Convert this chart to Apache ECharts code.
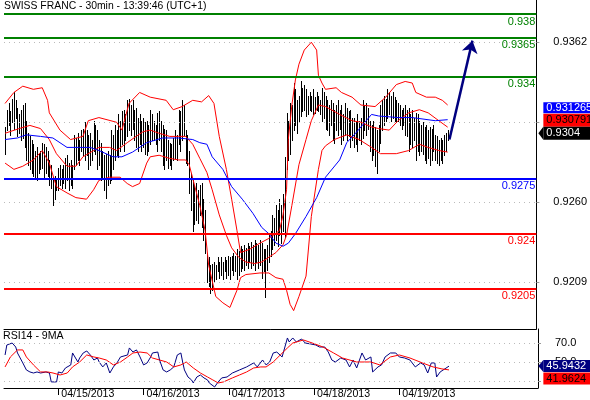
<!DOCTYPE html>
<html>
<head>
<meta charset="utf-8">
<title>Swiss Franc 30min</title>
<script src="https://cdn.jsdelivr.net/npm/echarts@6/dist/echarts.min.js"></script>
<style>
html,body{margin:0;padding:0;background:#ffffff;}
#chart{width:590px;height:400px;}
</style>
</head>
<body>
<div id="chart"></div>
<script>
// ---------------- data ----------------
const titleText = 'SWISS FRANC - 30min - 13:39:46 (UTC+1)';
const rsiTitle = 'RSI14 - 9MA';
const dayTicks = [0, 48, 96, 144, 192];
const dayLabels = ['04/15/2013', '04/16/2013', '04/17/2013', '04/18/2013', '04/19/2013'];
const priceTicks = [0.9209, 0.9260, 0.9311, 0.9362];
const rsiTicks = [30, 50, 70];
const levels = [0.938, 0.9365, 0.934, 0.9275, 0.924, 0.9205];
const levelLabels = ['0.938', '0.9365', '0.934', '0.9275', '0.924', '0.9205'];
const levelColors = ['#008000', '#008000', '#008000', '#0000ff', '#ff0000', '#ff0000'];

// 30-minute bars, slot 0 = 04/15 00:00
const firstBarSlot = -30;
const barHigh = [
  0.9308,0.9319,0.9323,0.9318,0.9326,0.9330,0.9325,0.9320,0.9316,0.9319,
  0.9322,0.9323,0.9312,0.9304,0.9302,0.9300,0.9297,0.9293,0.9295,0.9291,
  0.9293,0.9298,0.9297,0.9295,0.9293,0.9287,0.9284,0.9276,0.9277,0.9274,
  0.9282,0.9284,0.9281,0.9284,0.9288,0.9290,0.9285,0.9287,0.9284,0.9303,
  0.9301,0.9304,0.9300,0.9306,0.9307,0.9311,0.9306,0.9303,0.9304,0.9300,
  0.9312,0.9309,0.9306,0.9300,0.9298,0.9293,0.9290,0.9291,0.9293,0.9290,
  0.9306,0.9303,0.9309,0.9306,0.9316,0.9312,0.9318,0.9319,0.9316,0.9325,
  0.9326,0.9322,0.9325,0.9319,0.9320,0.9314,0.9316,0.9312,0.9314,0.9311,
  0.9312,0.9309,0.9319,0.9316,0.9312,0.9309,0.9317,0.9318,0.9312,0.9309,
  0.9307,0.9306,0.9300,0.9298,0.9297,0.9301,0.9306,0.9303,0.9319,0.9318,
  0.9325,0.9322,0.9306,0.9303,0.9293,0.9279,0.9274,0.9271,0.9272,0.9268,
  0.9271,0.9272,0.9262,0.9255,0.9228,0.9225,0.9220,0.9221,0.9222,0.9220,
  0.9225,0.9222,0.9225,0.9222,0.9225,0.9223,0.9226,0.9225,0.9226,0.9228,
  0.9226,0.9230,0.9229,0.9232,0.9230,0.9233,0.9231,0.9234,0.9232,0.9235,
  0.9233,0.9236,0.9234,0.9233,0.9236,0.9234,0.9230,0.9230,0.9233,0.9239,
  0.9242,0.9252,0.9250,0.9258,0.9255,0.9262,0.9258,0.9265,0.9289,0.9317,
  0.9312,0.9323,0.9322,0.9336,0.9332,0.9325,0.9328,0.9337,0.9333,0.9335,
  0.9332,0.9328,0.9330,0.9328,0.9332,0.9327,0.9330,0.9328,0.9325,0.9333,
  0.9330,0.9328,0.9325,0.9322,0.9325,0.9323,0.9319,0.9322,0.9325,0.9319,
  0.9322,0.9316,0.9323,0.9320,0.9318,0.9319,0.9314,0.9314,0.9311,0.9316,
  0.9312,0.9314,0.9325,0.9322,0.9323,0.9320,0.9312,0.9309,0.9312,0.9308,
  0.9306,0.9309,0.9322,0.9325,0.9328,0.9326,0.9332,0.9330,0.9328,0.9330,
  0.9327,0.9325,0.9323,0.9322,0.9319,0.9320,0.9322,0.9319,0.9320,0.9316,
  0.9319,0.9314,0.9317,0.9316,0.9312,0.9309,0.9311,0.9308,0.9309,0.9306,
  0.9308,0.9307,0.9309,0.9303,0.9302,0.9300,0.9301,0.9300,0.9303,0.9304,
  0.9306
];
const barLow = [
  0.9291,0.9306,0.9309,0.9303,0.9311,0.9307,0.9314,0.9302,0.9304,0.9300,
  0.9301,0.9295,0.9287,0.9284,0.9281,0.9279,0.9277,0.9276,0.9274,0.9279,
  0.9281,0.9282,0.9276,0.9279,0.9277,0.9271,0.9269,0.9258,0.9262,0.9268,
  0.9268,0.9271,0.9269,0.9272,0.9269,0.9274,0.9268,0.9271,0.9269,0.9281,
  0.9284,0.9287,0.9284,0.9293,0.9290,0.9287,0.9290,0.9281,0.9284,0.9287,
  0.9293,0.9291,0.9281,0.9284,0.9274,0.9276,0.9268,0.9263,0.9271,0.9272,
  0.9274,0.9281,0.9287,0.9290,0.9289,0.9293,0.9297,0.9293,0.9300,0.9302,
  0.9306,0.9303,0.9307,0.9300,0.9295,0.9293,0.9297,0.9293,0.9295,0.9291,
  0.9290,0.9293,0.9297,0.9300,0.9300,0.9297,0.9293,0.9300,0.9293,0.9284,
  0.9281,0.9287,0.9282,0.9284,0.9281,0.9287,0.9288,0.9287,0.9297,0.9293,
  0.9300,0.9303,0.9285,0.9284,0.9266,0.9255,0.9242,0.9246,0.9249,0.9247,
  0.9252,0.9244,0.9236,0.9228,0.9209,0.9207,0.9202,0.9204,0.9209,0.9211,
  0.9216,0.9212,0.9214,0.9211,0.9216,0.9212,0.9214,0.9211,0.9217,0.9214,
  0.9216,0.9211,0.9214,0.9216,0.9218,0.9217,0.9220,0.9218,0.9222,0.9218,
  0.9220,0.9217,0.9222,0.9218,0.9220,0.9212,0.9216,0.9200,0.9217,0.9222,
  0.9226,0.9230,0.9233,0.9236,0.9232,0.9239,0.9234,0.9242,0.9238,0.9281,
  0.9287,0.9291,0.9300,0.9306,0.9309,0.9304,0.9312,0.9315,0.9318,0.9319,
  0.9315,0.9316,0.9319,0.9318,0.9316,0.9317,0.9319,0.9318,0.9316,0.9312,
  0.9314,0.9307,0.9306,0.9303,0.9309,0.9300,0.9298,0.9306,0.9303,0.9307,
  0.9297,0.9300,0.9303,0.9300,0.9302,0.9295,0.9300,0.9295,0.9297,0.9293,
  0.9300,0.9297,0.9301,0.9306,0.9303,0.9307,0.9293,0.9287,0.9290,0.9283,
  0.9279,0.9293,0.9298,0.9306,0.9309,0.9312,0.9314,0.9316,0.9312,0.9314,
  0.9312,0.9311,0.9312,0.9309,0.9307,0.9309,0.9303,0.9302,0.9293,0.9297,
  0.9295,0.9300,0.9287,0.9293,0.9290,0.9293,0.9291,0.9287,0.9285,0.9288,
  0.9284,0.9287,0.9293,0.9287,0.9285,0.9284,0.9287,0.9285,0.9290,0.9293,
  0.9300
];
const lastClose = 0.9304;

// indicator lines: [slot, value]
const bbUpper = [
  [-30,0.9323],[-25,0.9330],[-20,0.9334],[-14,0.9332],[-9,0.9333],[-6,0.9325],[-5,0.9317],
  [1,0.9306],[7,0.9300],[14,0.9302],[17,0.9312],[23,0.9314],[33,0.9311],[36,0.9306],
  [40,0.9323],[46,0.9330],[52,0.9327],[61,0.9325],[65,0.9319],[70,0.9321],[76,0.9325],
  [81,0.9324],[85,0.9328],[88,0.9323],[91,0.9302],[95,0.9281],[98,0.9262],[101,0.9242],
  [103,0.9228],[108,0.9230],[114,0.9234],[119,0.9237],[125,0.9242],[127,0.9252],[129,0.9268],
  [130,0.9300],[132,0.9322],[134,0.9338],[136,0.9348],[139,0.9357],[143,0.9362],[146,0.9357],
  [147,0.9341],[149,0.9336],[151,0.9332],[157,0.9333],[160,0.9330],[166,0.9327],[171,0.9322],
  [179,0.9321],[185,0.9327],[191,0.9335],[196,0.9337],[200,0.9336],[202,0.9330],[208,0.9327],
  [213,0.9327],[217,0.9325],[220,0.9322]
];
const bbMiddle = [
  [-30,0.9304],[-22,0.9307],[-16,0.9309],[-10,0.9307],[-5,0.9300],[-1,0.9291],[5,0.9283],
  [10,0.9283],[14,0.9289],[20,0.9293],[23,0.9295],[29,0.9295],[33,0.9293],[39,0.9298],
  [44,0.9302],[48,0.9305],[52,0.9306],[57,0.9304],[63,0.9302],[68,0.9302],[72,0.9302],
  [76,0.9297],[80,0.9288],[84,0.9279],[87,0.9268],[91,0.9252],[95,0.9239],[98,0.9231],
  [102,0.9225],[106,0.9222],[111,0.9221],[115,0.9222],[119,0.9225],[123,0.9228],[127,0.9233],
  [129,0.9239],[132,0.9258],[136,0.9284],[140,0.9300],[143,0.9312],[147,0.9322],[151,0.9321],
  [159,0.9316],[166,0.9312],[171,0.9311],[177,0.9308],[181,0.9307],[187,0.9306],[192,0.9312],
  [198,0.9317],[204,0.9319],[209,0.9317],[215,0.9312],[220,0.930791]
];
const bbLower = [
  [-30,0.9285],[-25,0.9281],[-20,0.9283],[-14,0.9287],[-9,0.9293],[-5,0.9285],[-1,0.9270],
  [5,0.9266],[10,0.9263],[16,0.9262],[20,0.9268],[23,0.9274],[29,0.9276],[35,0.9276],
  [39,0.9272],[42,0.9270],[46,0.9272],[50,0.9285],[52,0.9289],[57,0.9290],[63,0.9288],
  [68,0.9287],[72,0.9287],[74,0.9284],[77,0.9271],[80,0.9258],[83,0.9242],[85,0.9220],
  [89,0.9200],[93,0.9196],[97,0.9193],[98,0.9193],[101,0.9204],[103,0.9212],[106,0.9214],
  [114,0.9215],[119,0.9215],[123,0.9212],[127,0.9211],[129,0.9204],[131,0.9195],[133,0.9191],
  [136,0.9200],[140,0.9213],[143,0.9251],[147,0.9281],[149,0.9293],[151,0.9296],[156,0.9300],
  [163,0.9303],[170,0.9300],[177,0.9295],[182,0.9291],[191,0.9291],[198,0.9293],[204,0.9297],
  [209,0.9295],[215,0.9293],[220,0.9292]
];
const maBlue = [
  [-30,0.9300],[-23,0.9301],[-18,0.9303],[-10,0.9302],[-3,0.9301],[5,0.9295],[12,0.9295],
  [18,0.9295],[23,0.9293],[31,0.9289],[36,0.9289],[42,0.9292],[50,0.9298],[59,0.9301],
  [68,0.9301],[76,0.9300],[80,0.9298],[84,0.9297],[87,0.9289],[93,0.9281],[98,0.9270],
  [104,0.9262],[110,0.9253],[115,0.9244],[119,0.9240],[123,0.9234],[127,0.9232],[130,0.9234],
  [134,0.9240],[140,0.9251],[146,0.9263],[151,0.9276],[159,0.9287],[163,0.9298],[168,0.9304],
  [174,0.9312],[177,0.9316],[181,0.9315],[192,0.9314],[200,0.9314],[213,0.9312],[220,0.931265]
];
const rsi14 = [
  [-30,57.7],[-29,68.2],[-28,66.1],[-26,70.3],[-24,66.1],[-23,59.8],[-22,59.8],[-20,49.3],
  [-18,41.9],[-16,39.8],[-14,38.7],[-12,39.8],[-10,38.7],[-7,39.8],[-5,38.7],[-4,29.3],
  [-1,29.3],[0,39.8],[2,38.7],[4,44.0],[7,47.2],[8,59.8],[11,50.3],[12,54.5],[14,59.8],
  [16,61.9],[18,57.7],[20,52.4],[22,54.5],[23,50.3],[25,45.1],[27,49.3],[29,38.7],[31,45.1],
  [33,49.3],[35,55.6],[36,57.7],[39,57.7],[40,65.1],[42,60.8],[44,63.0],[46,55.6],[48,47.2],
  [50,49.3],[52,55.6],[53,59.8],[56,60.8],[57,52.4],[59,41.9],[61,39.8],[63,41.9],[65,45.1],
  [67,57.7],[69,59.8],[70,50.3],[71,41.9],[73,34.5],[75,31.4],[76,28.2],[78,34.5],[80,36.6],
  [82,33.5],[84,31.4],[85,28.2],[88,24.0],[90,29.3],[92,33.5],[95,34.5],[98,38.7],[102,41.9],
  [106,45.1],[110,49.3],[112,45.1],[115,52.4],[117,47.2],[119,50.3],[121,59.8],[123,60.8],
  [126,55.6],[129,75.6],[130,71.4],[132,75.6],[134,71.4],[137,74.5],[139,70.3],[142,69.3],
  [145,68.2],[147,66.1],[150,66.1],[152,60.8],[154,52.4],[156,50.3],[159,54.5],[160,52.4],
  [162,52.4],[164,45.1],[166,52.4],[168,44.0],[171,59.8],[173,52.4],[174,50.3],[176,55.6],
  [177,39.8],[180,45.1],[182,47.2],[184,55.6],[187,59.8],[190,59.8],[192,55.6],[195,54.5],
  [198,52.4],[201,45.1],[204,49.3],[206,47.2],[208,38.7],[210,49.3],[212,49.3],[213,34.5],
  [215,39.8],[216,41.9],[220,45.9432]
];
const rsiMA9 = [
  [-30,45.1],[-27,55.6],[-23,63.0],[-20,63.0],[-18,55.6],[-14,47.2],[-10,39.8],[-6,39.8],
  [-3,38.7],[1,36.6],[5,38.7],[8,45.1],[12,50.3],[16,57.7],[20,55.6],[23,54.5],[27,52.4],
  [31,47.2],[35,50.3],[39,55.6],[42,59.8],[46,60.8],[50,59.8],[53,54.5],[57,52.4],[61,50.3],
  [65,45.1],[69,47.2],[72,50.3],[76,44.0],[80,38.7],[84,34.5],[87,31.4],[90,28.2],[93,29.3],
  [98,33.5],[102,36.6],[106,39.8],[110,44.0],[114,45.1],[117,45.1],[121,50.3],[125,57.7],
  [129,65.1],[132,70.3],[136,72.4],[138,73.5],[143,70.3],[149,66.1],[155,59.8],[160,54.5],
  [168,50.3],[176,50.3],[181,47.2],[187,55.6],[192,57.7],[198,54.5],[205,49.3],[211,45.1],
  [216,43.0],[220,41.9624]
];
const arrowFrom = [221, 0.9300];
const arrowTo = [234, 0.9363];

// ---------------- chart ----------------
const FONT = '"Liberation Sans", Arial, sans-serif';
const X_MIN = -30.6, X_MAX = 270.1;
const P_MIN = 0.91793, P_MAX = 0.93889;
const R_MIN = 22.9, R_MAX = 85.05;

const bars = barHigh.map((h, i) => [firstBarSlot + i, barLow[i], h]);
const last = (arr) => arr[arr.length - 1][1];
const hLine = (v, extra) => [Object.assign({coord: [X_MIN, v]}, extra || {}), {coord: [X_MAX, v]}];

const chart = echarts.init(document.getElementById('chart'), null, {renderer: 'canvas'});

const lineSeries = (name, data, color, xi, yi, z) => ({
  name, type: 'line', data, xAxisIndex: xi, yAxisIndex: yi, z,
  showSymbol: false, symbol: 'none', silent: true, animation: false,
  lineStyle: {color, width: 1}, clip: true
});

const option = {
  animation: false,
  backgroundColor: '#ffffff',
  grid: [
    {left: 4, right: 52, top: 0, height: 329},
    {left: 4, right: 52, top: 329, height: 59}
  ],
  xAxis: [
    {gridIndex: 0, type: 'value', min: X_MIN, max: X_MAX,
     axisLine: {show: true, onZero: false, lineStyle: {color: '#000', width: 1}},
     axisTick: {show: false}, axisLabel: {show: false}, splitLine: {show: false}},
    {gridIndex: 1, type: 'value', min: X_MIN, max: X_MAX,
     axisLine: {show: true, onZero: false, lineStyle: {color: '#000', width: 1}},
     axisTick: {show: true, customValues: dayTicks, length: 7, lineStyle: {color: '#000'}},
     axisLabel: {show: true, customValues: dayTicks, formatter: (v) => dayLabels[dayTicks.indexOf(v)],
       align: 'left', padding: [0, 0, 0, 3], margin: 1, fontSize: 10.6, color: '#000', fontFamily: FONT},
     splitLine: {show: false}}
  ],
  yAxis: [
    {gridIndex: 0, type: 'value', position: 'right', min: P_MIN, max: P_MAX,
     axisLine: {show: true, onZero: false, lineStyle: {color: '#000', width: 1}},
     axisTick: {show: true, customValues: priceTicks, length: 3, lineStyle: {color: '#999'}},
     axisLabel: {show: true, customValues: priceTicks, formatter: (v) => v.toFixed(4),
       margin: 17, fontSize: 11, color: '#000', fontFamily: FONT},
     splitLine: {show: false}},
    {gridIndex: 1, type: 'value', position: 'right', min: R_MIN, max: R_MAX,
     axisLine: {show: true, onZero: false, lineStyle: {color: '#000', width: 1}},
     axisTick: {show: true, customValues: rsiTicks, length: 3, lineStyle: {color: '#999'}},
     axisLabel: {show: true, customValues: rsiTicks, formatter: (v) => v.toFixed(1),
       margin: 17, fontSize: 11, color: '#000', fontFamily: FONT},
     splitLine: {show: false}}
  ],
  series: [
    // dotted price grid
    {type: 'line', data: [], xAxisIndex: 0, yAxisIndex: 0, z: 1, silent: true,
     markLine: {silent: true, symbol: ['none', 'none'], animation: false,
       lineStyle: {color: '#bbbbbb', width: 1, type: [1, 4]}, label: {show: false},
       data: priceTicks.map((v) => hLine(v))}},
    // dotted RSI grid
    {type: 'line', data: [], xAxisIndex: 1, yAxisIndex: 1, z: 1, silent: true,
     markLine: {silent: true, symbol: ['none', 'none'], animation: false,
       lineStyle: {color: '#bbbbbb', width: 1, type: [1, 4]}, label: {show: false},
       data: rsiTicks.map((v) => hLine(v))}},
    // price bars (high-low)
    {type: 'custom', data: bars, xAxisIndex: 0, yAxisIndex: 0, z: 2, silent: true, clip: true,
     encode: {x: 0, y: [1, 2]},
     renderItem: function (params, api) {
       const x = api.value(0);
       const pHi = api.coord([x, api.value(2)]);
       const pLo = api.coord([x, api.value(1)]);
       const px = Math.round(pHi[0]) + 0.5;
       return {type: 'line',
         shape: {x1: px, y1: Math.round(pHi[1]), x2: px, y2: Math.round(pLo[1]) + 1},
         style: {stroke: '#000000', lineWidth: 1}};
     }},
    lineSeries('Upper', bbUpper, '#ff0000', 0, 0, 3),
    lineSeries('Middle', bbMiddle, '#ff0000', 0, 0, 3),
    lineSeries('Lower', bbLower, '#ff0000', 0, 0, 3),
    lineSeries('MA', maBlue, '#0000ff', 0, 0, 3),
    // price levels
    {type: 'line', data: [], xAxisIndex: 0, yAxisIndex: 0, z: 4, silent: true,
     markLine: {silent: true, symbol: ['none', 'none'], animation: false,
       data: levels.map((v, i) => hLine(v, {
         lineStyle: {color: levelColors[i], width: 2, type: 'solid'},
         label: {show: true, position: 'insideEndBottom', formatter: levelLabels[i],
           color: levelColors[i], fontSize: 11, fontFamily: FONT, distance: [1, 2]}
       }))}},
    // forecast arrow
    {type: 'line', data: [], xAxisIndex: 0, yAxisIndex: 0, z: 5, silent: true,
     markLine: {silent: true, symbol: ['none', 'arrow'], symbolSize: 12, animation: false,
       lineStyle: {color: '#000080', width: 2.5, type: 'solid'}, label: {show: false},
       data: [[{coord: arrowFrom}, {coord: arrowTo}]]}},
    lineSeries('RSI14', rsi14, '#000080', 1, 1, 3),
    lineSeries('9MA', rsiMA9, '#ff0000', 1, 1, 3)
  ]
};
chart.setOption(option);

// value tags on the right axis
const axisX = chart.convertToPixel({xAxisIndex: 0}, X_MAX);
function tag(yc, h, text, bg, fg, pointer) {
  const els = [];
  const bx = axisX + 7;
  if (pointer) {
    els.push({type: 'polygon', shape: {points: [[axisX + 2, yc], [bx, yc - h / 2], [bx, yc + h / 2]]},
      style: {fill: bg}, z: 100});
  }
  els.push({type: 'rect', shape: {x: bx, y: yc - h / 2, width: 60, height: h}, style: {fill: bg}, z: 100});
  els.push({type: 'text', x: bx + 3, y: yc, style: {text, fill: fg, font: '11px ' + FONT, verticalAlign: 'middle', align: 'left'}, z: 101});
  return els;
}
const yClose = chart.convertToPixel({yAxisIndex: 0}, lastClose);
const yRsi = chart.convertToPixel({yAxisIndex: 1}, last(rsi14));
let g = [
  {type: 'text', left: 4, top: 1, style: {text: titleText, fill: '#000', font: '10.4px ' + FONT}, z: 100},
  {type: 'text', left: 3, top: 331, style: {text: rsiTitle, fill: '#000', font: '10.6px ' + FONT}, z: 100}
];
g = g.concat(tag(yClose - 25.5, 11, last(maBlue).toFixed(6), '#0000ff', '#ffffff', false));
g = g.concat(tag(yClose - 13, 13, last(bbMiddle).toFixed(6), '#ff0000', '#000000', false));
g = g.concat(tag(yClose, 13, lastClose.toFixed(4), '#000000', '#ffffff', true));
g = g.concat(tag(yRsi, 12, last(rsi14).toFixed(4), '#000080', '#ffffff', true));
g = g.concat(tag(yRsi + 12.5, 12, last(rsiMA9).toFixed(4), '#ff0000', '#000000', false));
chart.setOption({graphic: g});
</script>
</body>
</html>
